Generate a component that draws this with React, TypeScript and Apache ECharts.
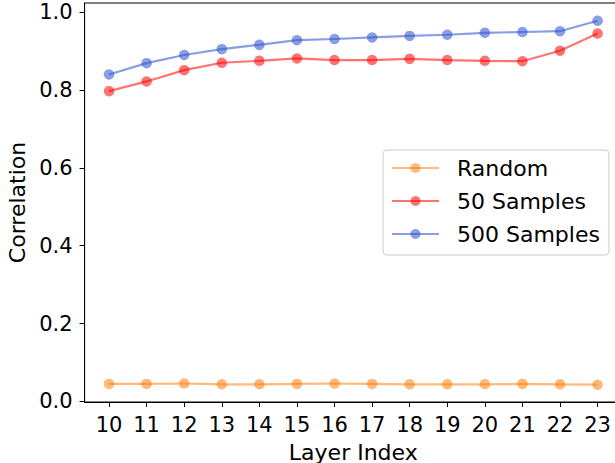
import React, { useEffect, useRef } from "react";
import * as echarts from "echarts";

const layers = [10, 11, 12, 13, 14, 15, 16, 17, 18, 19, 20, 21, 22, 23];
const randomVals = [0.045, 0.045, 0.046, 0.044, 0.044, 0.045, 0.046, 0.045, 0.044, 0.044, 0.044, 0.045, 0.044, 0.043];
const samples50 = [0.797, 0.822, 0.851, 0.870, 0.875, 0.881, 0.877, 0.877, 0.880, 0.877, 0.875, 0.874, 0.901, 0.945];
const samples500 = [0.840, 0.869, 0.890, 0.905, 0.916, 0.928, 0.931, 0.935, 0.939, 0.942, 0.947, 0.949, 0.951, 0.978];
const yTicks = [0, 0.2, 0.4, 0.6, 0.8, 1.0];
const seriesNames = ["Random", "50 Samples", "500 Samples"];

const FONT = "DejaVu Sans";

export default function App() {
  const ref = useRef<HTMLDivElement>(null);
  useEffect(() => {
    if (!ref.current) return;
    const chart = echarts.init(ref.current, null, { renderer: "svg" });
    const mk = (name: string, vals: number[], color: string, op: number) => ({
      name,
      type: "line",
      data: layers.map((l, i) => [l, vals[i]]),
      symbol: "circle",
      symbolSize: 10.5,
      itemStyle: { color, opacity: op },
      lineStyle: { color, width: 2.2, opacity: op },
      emphasis: { disabled: true },
    });
    chart.setOption({
      animation: false,
      grid: {
        left: 84.6,
        right: -7,
        top: 3,
        bottom: 61,
        containLabel: false,
        outerBoundsMode: "none",
        show: true,
        borderColor: "#000",
        borderWidth: 1,
        backgroundColor: "transparent",
      },
      legend: {
        data: seriesNames,
        orient: "vertical",
        left: 383,
        top: 150,
        padding: [7, 9, 10, 8],
        itemWidth: 47,
        itemHeight: 12.5,
        itemGap: 11,
        backgroundColor: "rgba(255,255,255,0.8)",
        borderColor: "#cccccc",
        borderWidth: 1,
        borderRadius: 4,
        textStyle: {
          fontFamily: FONT,
          fontSize: 22,
          lineHeight: 22,
          color: "#000",
          padding: [0, 0, 0, 13],
        },
      },
      xAxis: {
        type: "value",
        min: 9.35,
        max: 23.65,
        splitLine: { show: false },
        axisLine: { show: true, onZero: false, lineStyle: { color: "#000", width: 1 } },
        axisTick: { show: true, length: 5, lineStyle: { color: "#000" }, customValues: layers },
        axisLabel: {
          customValues: layers,
          fontFamily: FONT,
          fontSize: 21,
          color: "#000",
          margin: 12,
        },
        name: "Layer Index",
        nameLocation: "middle",
        nameGap: 39,
        nameTextStyle: { fontFamily: FONT, fontSize: 22, color: "#000" },
      },
      yAxis: {
        type: "value",
        min: -0.0015,
        max: 1.0235,
        splitLine: { show: false },
        axisLine: { show: true, onZero: false, lineStyle: { color: "#000", width: 1 } },
        axisTick: { show: true, length: 5, lineStyle: { color: "#000" }, customValues: yTicks },
        axisLabel: {
          customValues: yTicks,
          fontFamily: FONT,
          fontSize: 21,
          color: "#000",
          margin: 12,
          formatter: (v: number) => v.toFixed(1),
        },
        name: "Correlation",
        nameLocation: "middle",
        nameGap: 56,
        nameRotate: 90,
        nameTextStyle: { fontFamily: FONT, fontSize: 22, color: "#000" },
      },
      series: [
        mk(seriesNames[0], randomVals, "#ff7f0e", 0.55),
        mk(seriesNames[1], samples50, "#ff0000", 0.55),
        mk(seriesNames[2], samples500, "#3358d0", 0.58),
      ],
    });
    return () => chart.dispose();
  }, []);
  return (
    <div
      ref={ref}
      style={{ position: "fixed", left: 0, top: 0, width: 615, height: 463, background: "#fff" }}
    />
  );
}
